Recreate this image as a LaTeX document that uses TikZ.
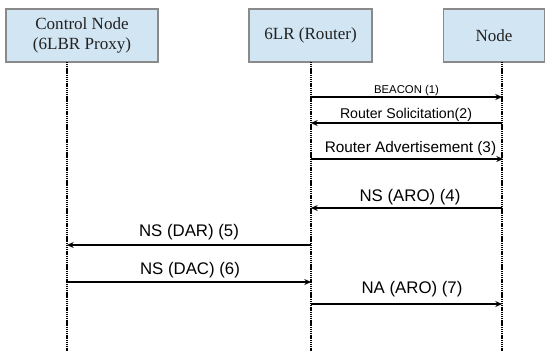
\documentclass[tikz,border=0pt]{standalone}
\usepackage{fontspec}
\setmainfont{Liberation Serif}
\newfontfamily\lblfont{Liberation Sans}
\usetikzlibrary{arrows.meta}
\definecolor{boxfill}{HTML}{D2E5F3}
\definecolor{boxline}{HTML}{8A8A8A}
\definecolor{boxtext}{HTML}{222222}
\tikzset{
  actor/.style={draw=boxline, fill=boxfill, line width=0.9pt, inner sep=0pt, text=boxtext,
    font=\fontsize{12.8}{15.5}\selectfont, align=center},
  lifeline/.style={draw=black, line width=0.9pt, dash pattern=on 0.9pt off 0.5pt},
  msg/.style={draw=black, line width=1.3pt, -{Stealth[length=5pt,width=4.5pt]}},
  msglabel/.style={inner sep=0pt, text=black, anchor=center}
}
\begin{document}
\begin{tikzpicture}[x=0.75pt,y=-0.75pt]
\useasboundingbox (0,0) rectangle (545,351);
% actor boxes
\node[actor, minimum width=152*0.75pt, minimum height=53*0.75pt] (cn) at (82,35.5) {Control Node\\(6LBR Proxy)};
\node[actor, minimum width=123*0.75pt, minimum height=53*0.75pt] (lr) at (310.5,35.5) {6LR (Router)};
\node[actor, minimum width=101*0.75pt, minimum height=53*0.75pt] (nd) at (494,35.5) {Node};
% lifelines
\coordinate (cnT) at (67,62);  \coordinate (cnB) at (67,351);
\coordinate (lrT) at (311,62); \coordinate (lrB) at (311,351);
\coordinate (ndT) at (502,62); \coordinate (ndB) at (502,351);
\draw[lifeline] (cnT) -- (cnB);
\draw[lifeline] (lrT) -- (lrB);
\draw[lifeline] (ndT) -- (ndB);
% message anchor points
\coordinate (lr1) at (311,97);  \coordinate (nd1) at (502,97);
\coordinate (lr2) at (311,123); \coordinate (nd2) at (502,123);
\coordinate (lr3) at (311,159); \coordinate (nd3) at (503,159);
\coordinate (lr4) at (311,208); \coordinate (nd4) at (502,208);
\coordinate (cn5) at (67,245);  \coordinate (lr5) at (311,245);
\coordinate (cn6) at (67,282);  \coordinate (lr6) at (311,282);
\coordinate (lr7) at (311,304); \coordinate (nd7) at (502,304);
% messages
\draw[msg, line width=1.1pt] (lr1) -- (nd1);
\draw[msg] (nd2) -- (lr2);
\draw[msg, line width=1.1pt] (lr3) -- (nd3);
\draw[msg] (nd4) -- (lr4);
\draw[msg] (lr5) -- (cn5);
\draw[msg] (cn6) -- (lr6);
\draw[msg] (lr7) -- (nd7);
% labels
\node[msglabel, font=\lblfont\fontsize{8.5}{10}\selectfont] (t1) at (406.5,91) {BEACON (1)};
\node[msglabel, font=\lblfont\fontsize{10.6}{12}\selectfont] (t2) at (406,115) {Router Solicitation(2)};
\node[msglabel, font=\lblfont\fontsize{11.5}{13}\selectfont] (t3) at (410.5,149) {Router Advertisement (3)};
\node[msglabel, font=\lblfont\fontsize{12.6}{14}\selectfont] (t4) at (410,197) {NS (ARO) (4)};
\node[msglabel, font=\lblfont\fontsize{12.6}{14}\selectfont] (t5) at (189,232) {NS (DAR) (5)};
\node[msglabel, font=\lblfont\fontsize{12.6}{14}\selectfont] (t6) at (190,270) {NS (DAC) (6)};
\node[msglabel, font=\lblfont\fontsize{12.6}{14}\selectfont] (t7) at (412,289) {NA (ARO) (7)};
\end{tikzpicture}
\end{document}
